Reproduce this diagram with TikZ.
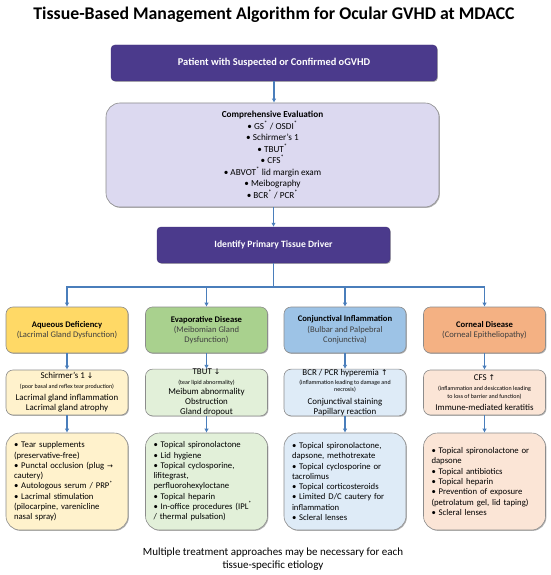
\documentclass[tikz,border=0pt]{standalone}
\usepackage{fontspec}
\setmainfont{Carlito}
\newfontfamily\symf{DejaVu Sans}
\usetikzlibrary{arrows.meta,shadows}
\definecolor{pp}{HTML}{4B3A8C}
\definecolor{lav}{HTML}{DCD9F0}
\definecolor{yelA}{HTML}{FFD966}
\definecolor{yelB}{HTML}{FFF2CC}
\definecolor{grnA}{HTML}{A9D18E}
\definecolor{grnB}{HTML}{E2F0D9}
\definecolor{bluA}{HTML}{9DC3E6}
\definecolor{bluB}{HTML}{DEEBF7}
\definecolor{orgA}{HTML}{F4B183}
\definecolor{orgB}{HTML}{FBE5D6}
\definecolor{edge}{HTML}{8C8C8C}
\definecolor{conn}{HTML}{4A7EBB}
\newcommand\mystar{\textsuperscript{*}}
\newcommand\mydn{{\symf\fontsize{7.8}{8}\selectfont ↓}}
\newcommand\myup{{\symf\fontsize{7.8}{8}\selectfont ↑}}
\newcommand\myra{{\symf\fontsize{7}{8}\selectfont →}}
\tikzset{
  shad/.style={drop shadow={shadow xshift=0.9pt,shadow yshift=-0.9pt,opacity=0.3,fill=black}},
  purplebox/.style={shad,fill=pp,draw=pp!85!black,rounded corners=4pt,text=white,
     font=\bfseries,align=center,inner sep=0pt},
  evalbox/.style={shad,fill=lav,draw=edge,line width=0.6pt,rounded corners=14pt,align=center,
     minimum width=333pt,minimum height=104pt,inner sep=0pt,font=\fontsize{9.2}{11.5}\selectfont},
  catbox/.style={shad,draw=edge,line width=0.6pt,rounded corners=7pt,align=center,
     minimum width=122pt,minimum height=46pt,inner sep=0pt,font=\fontsize{8.6}{10.3}\selectfont},
  midbox/.style={shad,draw=edge,line width=0.6pt,rounded corners=7pt,align=center,
     minimum width=122pt,minimum height=45pt,inner sep=0pt,font=\fontsize{8.9}{10}\selectfont},
  botbox/.style={shad,draw=edge,line width=0.6pt,rounded corners=14pt,align=left,
     text width=106pt,minimum width=122pt,minimum height=97pt,inner xsep=8pt,inner ysep=0pt,
     font=\fontsize{8.7}{10.3}\selectfont},
  conline/.style={draw=conn,line width=1.4pt},
  conarrow/.style={conline,-{Latex[length=4pt,width=4.5pt]}}
}
\newcommand\smalltxt[1]{{\fontsize{6}{6}\selectfont #1}}
\begin{document}
\begin{tikzpicture}[x=1pt,y=-1pt]
\useasboundingbox (0,0) rectangle (550,575);

\node (title) at (274,15) {\fontsize{17.8}{19}\selectfont\bfseries Tissue-Based Management Algorithm for Ocular GVHD at MDACC};

\node[purplebox,minimum width=326pt,minimum height=36pt,font=\fontsize{10.4}{12}\selectfont\bfseries] (patient) at (274,63) {Patient with Suspected or Confirmed oGVHD};

\node[evalbox] (eval) at (272.5,155) {\textbf{Comprehensive Evaluation}\\
• GS\mystar{} / OSDI\mystar\\
• Schirmer’s 1\\
• TBUT\mystar\\
• CFS\mystar\\
• ABVOT\mystar{} lid margin exam\\
• Meibography\\
• BCR\mystar{} / PCR\mystar};

\node[purplebox,minimum width=233pt,minimum height=36pt,font=\fontsize{9.6}{11}\selectfont\bfseries] (ident) at (273.5,245) {Identify Primary Tissue Driver};

% category boxes
\node[catbox,fill=yelA] (c1) at (67,330) {\textbf{Aqueous Deficiency}\\\color{black!75}(Lacrimal Gland Dysfunction)};
\node[catbox,fill=grnA] (c2) at (206.5,330) {\textbf{Evaporative Disease}\\\color{black!75}(Meibomian Gland\\\color{black!75}Dysfunction)};
\node[catbox,fill=bluA] (c3) at (345,330) {\textbf{Conjunctival Inflammation}\\\color{black!75}(Bulbar and Palpebral\\\color{black!75}Conjunctiva)};
\node[catbox,fill=orgA] (c4) at (484.5,330) {\textbf{Corneal Disease}\\\color{black!75}(Corneal Epitheliopathy)};

% middle boxes
\node[midbox,fill=yelB] (m1) at (67,392.5) {Schirmer’s 1 \mydn\\
\smalltxt{(poor basal and reflex tear production)}\\[2pt]
Lacrimal gland inflammation\\
Lacrimal gland atrophy};
\node[midbox,fill=grnB] (m2) at (206.5,392.5) {TBUT \mydn\\
\smalltxt{(tear lipid abnormality)}\\[-0.5pt]
Meibum abnormality\\
Obstruction\\
Gland dropout};
\node[midbox,fill=bluB] (m3) at (345,392.5) {BCR / PCR hyperemia \myup\\[-1pt]
\smalltxt{(inflammation leading to damage and}\\[-3pt]
\smalltxt{necrosis)}\\[3pt]
Conjunctival staining\\
Papillary reaction};
\node[midbox,fill=orgB] (m4) at (484.5,392.5) {CFS \myup\\
\smalltxt{(inflammation and desiccation leading}\\[-2pt]
\smalltxt{to loss of barrier and function)}\\[2pt]
Immune-mediated keratitis};

% bottom boxes
\node[botbox,fill=yelB] (b1) at (67,481.5) {• Tear supplements\\
(preservative-free)\\
• Punctal occlusion (plug \myra\\
cautery)\\
• Autologous serum / PRP\mystar\\
• Lacrimal stimulation\\
(pilocarpine, varenicline\\
nasal spray)};
\node[botbox,fill=grnB] (b2) at (206.5,481.5) {• Topical spironolactone\\
• Lid hygiene\\
• Topical cyclosporine,\\
lifitegrast,\\
perfluorohexyloctane\\
• Topical heparin\\
• In-office procedures (IPL\mystar\\
/ thermal pulsation)};
\node[botbox,fill=bluB] (b3) at (345,481.5) {• Topical spironolactone,\\
dapsone, methotrexate\\
• Topical cyclosporine or\\
tacrolimus\\
• Topical corticosteroids\\
• Limited D/C cautery for\\
inflammation\\
• Scleral lenses};
\node[botbox,fill=orgB] (b4) at (484.5,481.5) {• Topical spironolactone or\\
dapsone\\
• Topical antibiotics\\
• Topical heparin\\
• Prevention of exposure\\
(petrolatum gel, lid taping)\\
• Scleral lenses};

\node[align=center,font=\fontsize{11}{12.5}\selectfont] (note) at (273,559) {Multiple treatment approaches may be necessary for each\\tissue-specific etiology};

% connectors
\draw[conarrow] (patient.south) -- (eval.north -| patient.south);
\draw[conarrow] (eval.south -| ident.north) -- (ident.north);
\coordinate (hub) at (273.5,287);
\draw[conline] (ident.south) -- (hub);
\coordinate (hl) at (67,287);
\coordinate (hr) at (484.5,287);
\draw[conline,line cap=rect] (hl) -- (hr);
\foreach \c in {c1,c2,c3,c4}{
  \draw[conarrow] (hub -| \c.north) -- (\c.north);
}
\foreach \a/\b in {c1/m1,c2/m2,c3/m3,c4/m4,m1/b1,m2/b2,m3/b3,m4/b4}{
  \draw[conarrow] (\a.south) -- (\b.north);
}
\end{tikzpicture}
\end{document}
